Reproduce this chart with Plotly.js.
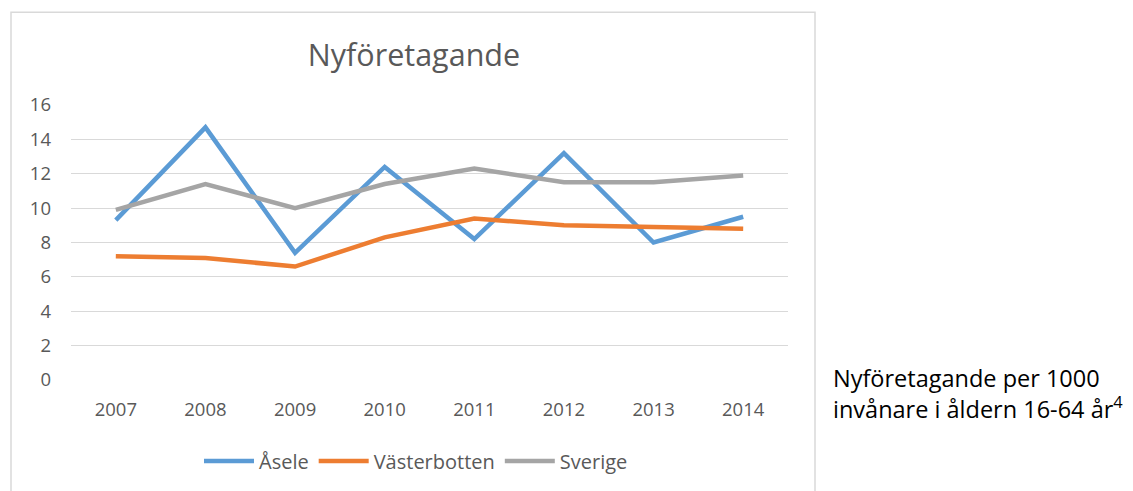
<!DOCTYPE html>
<html>
<head>
<meta charset="utf-8">
<script src="https://cdn.plot.ly/plotly-3.0.1.min.js"></script>
<style>html,body{margin:0;padding:0;background:#fff;}#chart{width:1133px;height:491px;}</style>
</head>
<body>
<div id="chart"></div>
<script>
const years = ["2007","2008","2009","2010","2011","2012","2013","2014"];
const asele = [9.3, 14.7, 7.4, 12.4, 8.2, 13.2, 8.0, 9.5];
const vasterbotten = [7.2, 7.1, 6.6, 8.3, 9.4, 9.0, 8.9, 8.8];
const sverige = [9.9, 11.4, 10.0, 11.4, 12.3, 11.5, 11.5, 11.9];
const seriesNames = ["Åsele", "Västerbotten", "Sverige"];
const colors = ["#5B9BD5", "#ED7D31", "#A5A5A5"];

const F = "Open Sans, Noto Sans, sans-serif";
const traces = [asele, vasterbotten, sverige].map((v, i) => ({
  type: "scatter", mode: "lines", x: years, y: v, name: seriesNames[i],
  line: {color: colors[i], width: 4.5}
}));

const layout = {
  width: 1133, height: 491,
  margin: {l: 71, r: 345, t: 105, b: 110},
  paper_bgcolor: "#fff", plot_bgcolor: "#fff",
  font: {family: F, color: "#595959", size: 18.5},
  title: {text: "Nyföretagande", font: {family: F, size: 30.5, color: "#595959"},
          x: 414/1133, xref: "container", xanchor: "center", y: 1-55/491, yanchor: "middle"},
  xaxis: {type: "category", range: [-0.5, 7.5], showgrid: false, zeroline: false, showline: false,
          ticks: "", tickfont: {size: 18.5, color: "#595959"}, ticklabelstandoff: 16},
  yaxis: {range: [0, 16], dtick: 2, showgrid: true, gridcolor: "#d9d9d9", gridwidth: 1,
          zeroline: false, showline: false, ticks: "", tickfont: {size: 18.5, color: "#595959"},
          ticklabelstandoff: 19},
  showlegend: true,
  legend: {orientation: "h", x: (416-71)/717, xanchor: "center", y: (381-461)/276, yanchor: "middle",
           font: {size: 20, color: "#595959"}, itemwidth: 50, traceorder: "normal"},
  shapes: [{type: "rect", xref: "paper", yref: "paper",
            x0: (11-71)/717, x1: (815-71)/717, y0: -0.6, y1: (381-12)/276,
            line: {color: "#d9d9d9", width: 1.5}, fillcolor: "rgba(0,0,0,0)", layer: "below"}],
  annotations: [{xref: "paper", yref: "paper", x: (831-71)/717, y: (381-395)/276,
                 xanchor: "left", yanchor: "middle", align: "left", showarrow: false,
                 text: "Nyföretagande per 1000<br>invånare i åldern 16-64 år<sup>4</sup>",
                 font: {family: F, size: 23.5, color: "#000"}}]
};
Plotly.newPlot("chart", traces, layout, {displayModeBar: false, staticPlot: true});
</script>
</body>
</html>
